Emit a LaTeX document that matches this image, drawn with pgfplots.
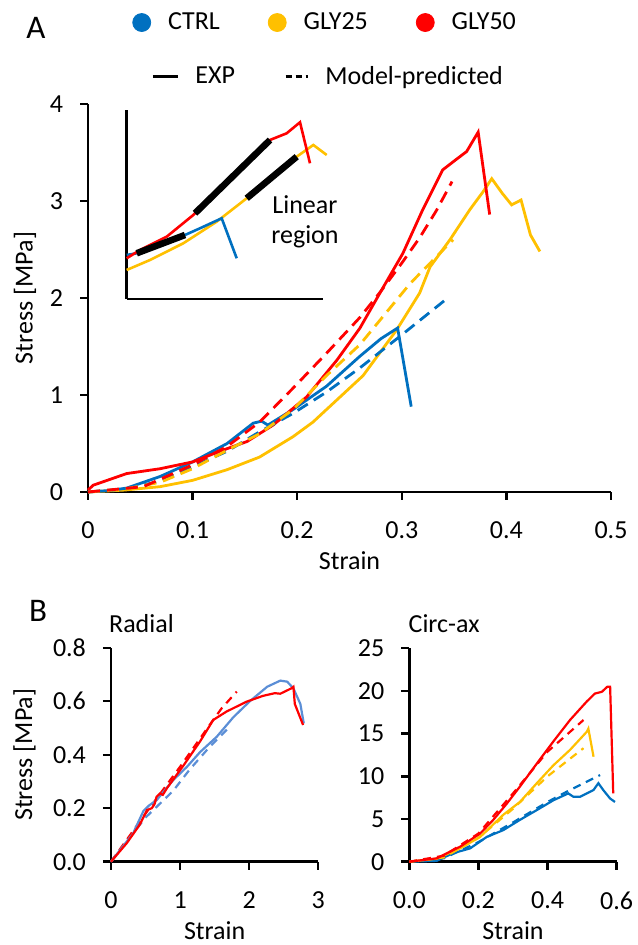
\documentclass[border=0pt]{standalone}
\usepackage{fontspec}
\setmainfont{Carlito}
\usepackage{pgfplots}
\pgfplotsset{compat=1.18}
\definecolor{ctrl}{HTML}{0070C0}
\definecolor{ctrlB}{HTML}{5B8ED6}
\definecolor{gly25}{HTML}{FFC000}
\definecolor{gly50}{HTML}{FF0000}

\pgfplotsset{
  panel/.style={
    scale only axis, axis lines=left, axis line style={-, line width=1.3pt},
    tick align=outside, major tick length=4pt, tick style={line width=1.2pt, black},
    every tick label/.append style={font=\fontsize{13}{15}\selectfont},
    xticklabel style={yshift=-7.5pt},
    yticklabel style={xshift=-5pt},
    label style={font=\fontsize{13}{15}\selectfont},
    /pgf/number format/assume math mode=true,
    clip=false,
  },
  exp/.style={line width=1.4pt},
  mod/.style={line width=1.4pt, dash pattern=on 6pt off 3.5pt},
  expB/.style={line width=1.1pt},
  modB/.style={line width=1.1pt, dash pattern=on 4pt off 3pt},
}

\begin{document}
\begin{tikzpicture}
\useasboundingbox (0,0) rectangle (318.5pt,472.5pt);

% ---- panel A
\begin{axis}[panel, at={(44pt,226.5pt)}, anchor=south west,
  width=261.5pt, height=194pt,
  xmin=0, xmax=0.5, ymin=0, ymax=4,
  xtick={0,0.1,0.2,0.3,0.4,0.5}, ytick={0,1,2,3,4},
  xlabel={Strain}, ylabel={Stress [MPa]},
  xlabel style={at={(axis description cs:0.5,-0.178)}, anchor=center},
  ylabel style={at={(axis description cs:-0.1205,0.5)}, anchor=center},
  legend columns=-1, legend cell align=left,
  legend style={at={(axis description cs:0.084,1.210)}, anchor=west,
    draw=none, fill=none, inner sep=0pt,
    font=\fontsize{13}{15}\selectfont,
    nodes={inner xsep=0pt, inner ysep=1pt},
    /tikz/every odd column/.append style={column sep=8.5pt},
    /tikz/every even column/.append style={column sep=24pt}},
]
\addlegendimage{legend image code/.code={\fill[ctrl] (4.5pt,0pt) circle (4.5pt);}}
\addlegendentry{CTRL}
\addlegendimage{legend image code/.code={\fill[gly25] (4.5pt,0pt) circle (4.5pt);}}
\addlegendentry{GLY25}
\addlegendimage{legend image code/.code={\fill[gly50] (4.5pt,0pt) circle (4.5pt);}}
\addlegendentry{GLY50}

% experimental
\addplot[exp, gly25, forget plot] coordinates {
 (0,0) (0.035,0.02) (0.069,0.055) (0.1,0.12) (0.133,0.23) (0.164,0.36)
 (0.196,0.57) (0.215,0.72) (0.228,0.85) (0.263,1.2) (0.295,1.67) (0.317,2.05)
 (0.327,2.32) (0.346,2.60) (0.365,2.91) (0.378,3.10) (0.386,3.23) (0.396,3.08)
 (0.405,2.96) (0.414,3.01) (0.423,2.65) (0.432,2.48)};
\addplot[exp, ctrl, forget plot] coordinates {
 (0,0) (0.02,0.015) (0.037,0.04) (0.069,0.16) (0.1,0.31) (0.133,0.50)
 (0.158,0.71) (0.166,0.73) (0.172,0.69) (0.196,0.85) (0.228,1.09) (0.26,1.40)
 (0.28,1.58) (0.293,1.67) (0.296,1.69) (0.309,0.88)};
\addplot[exp, gly50, forget plot] coordinates {
 (0,0.02) (0.005,0.07) (0.037,0.19) (0.069,0.24) (0.1,0.31) (0.126,0.42)
 (0.152,0.52) (0.177,0.69) (0.209,0.98) (0.238,1.36) (0.26,1.69) (0.279,2.05)
 (0.301,2.46) (0.320,2.91) (0.339,3.32) (0.351,3.42) (0.362,3.51) (0.373,3.71)
 (0.384,2.86)};
% model-predicted
\addplot[mod, ctrl, forget plot] coordinates {
 (0,0) (0.035,0.03) (0.069,0.11) (0.1,0.26) (0.133,0.42) (0.164,0.62)
 (0.196,0.81) (0.228,1.03) (0.26,1.28) (0.3,1.62) (0.345,2.01)};
\addplot[mod, gly25, forget plot] coordinates {
 (0,0) (0.035,0.03) (0.069,0.10) (0.1,0.24) (0.133,0.43) (0.164,0.60)
 (0.196,0.85) (0.228,1.2) (0.26,1.52) (0.308,2.15) (0.349,2.6)};
\addplot[mod, gly50, forget plot] coordinates {
 (0,0) (0.053,0.055) (0.1,0.28) (0.133,0.47) (0.164,0.72) (0.196,1.07)
 (0.228,1.43) (0.26,1.80) (0.28,2.07) (0.3,2.36) (0.317,2.62) (0.333,2.9)
 (0.348,3.2)};

\node[font=\fontsize{16.5}{18}\selectfont] at (axis description cs:-0.0994,1.197) {A};
\end{axis}

% ---- inset (schematic of linear region)
\begin{axis}[scale only axis, at={(63.35pt,323pt)}, anchor=south west,
  width=98.15pt, height=94.5pt,
  xmin=126.7, xmax=323, ymin=0, ymax=189,
  axis lines=left, axis line style={-, line width=1.3pt},
  xtick=\empty, ytick=\empty, clip=false,
  legend columns=-1, legend cell align=left,
  legend style={at={(axis description cs:0.124,1.176)}, anchor=west,
    draw=none, fill=none, inner sep=0pt,
    font=\fontsize{13}{15}\selectfont,
    nodes={inner xsep=0pt, inner ysep=1pt},
    /tikz/every odd column/.append style={column sep=8.2pt},
    /tikz/every even column/.append style={column sep=24.5pt}},
]
\addlegendimage{legend image code/.code={\draw[line width=1.5pt] (0pt,0pt) -- (12.3pt,0pt);}}
\addlegendentry{EXP}
\addlegendimage{legend image code/.code={\draw[line width=1.5pt, dash pattern=on 3pt off 2pt] (0pt,0pt) -- (11pt,0pt);}}
\addlegendentry{Model-predicted}

\addplot[line width=1.3pt, gly25, forget plot] coordinates {
 (126.7,29) (150,39) (183.3,55.7) (216.7,77.3) (246.7,100.7) (296.7,142.3)
 (313.3,154) (326.7,144)};
\addplot[line width=1.3pt, ctrl, forget plot] coordinates {
 (126.7,44) (136.7,45.7) (160,54.5) (185,64) (200,70.7) (221.7,80.7) (236.7,40.7)};
\addplot[line width=1.3pt, gly50, forget plot] coordinates {
 (126.7,40.7) (140,49) (166.7,62.3) (193.3,84) (195,85.7) (270,159)
 (286.7,165.7) (300,176.7) (310,135.7)};
\addplot[line width=3.3pt, black, forget plot] coordinates {(136.7,45.7) (185,64)};
\addplot[line width=3.3pt, black, forget plot] coordinates {(195,85.7) (270,159)};
\addplot[line width=3.3pt, black, forget plot] coordinates {(246.7,100.7) (296.7,142.3)};
\node[font=\fontsize{13}{15}\selectfont, align=center] at (axis description cs:0.908,0.407) {Linear\\region};
\end{axis}

% ---- panel B, radial
\begin{axis}[panel, at={(55.5pt,41.65pt)}, anchor=south west,
  width=103.65pt, height=107pt,
  xmin=0, xmax=3, ymin=0, ymax=0.8,
  xtick={0,1,2,3}, ytick={0,0.2,0.4,0.6,0.8},
  yticklabel style={/pgf/number format/.cd, fixed, fixed zerofill, precision=1},
  xlabel={Strain}, ylabel={Stress [MPa]},
  xlabel style={at={(axis description cs:0.5,-0.324)}, anchor=center},
  ylabel style={at={(axis description cs:-0.417,0.5)}, anchor=center},
]
\addplot[modB, ctrlB] coordinates {
 (0,0) (0.3,0.1) (0.5,0.165) (0.9,0.265) (1.14,0.345) (1.43,0.43) (1.72,0.505)};
\addplot[modB, gly50] coordinates {
 (0,0) (0.5,0.18) (1.0,0.355) (1.46,0.523) (1.60,0.573) (1.82,0.636)};
\addplot[expB, ctrlB] coordinates {
 (0,0) (0.15,0.05) (0.32,0.106) (0.47,0.19) (0.55,0.21) (0.66,0.23) (0.9,0.305)
 (1.10,0.355) (1.29,0.41) (1.53,0.467) (1.77,0.54) (2.01,0.60) (2.26,0.654)
 (2.45,0.677) (2.55,0.673) (2.64,0.648) (2.74,0.59) (2.79,0.517)};
\addplot[expB, gly50] coordinates {
 (0,0) (0.23,0.07) (0.42,0.14) (0.52,0.193) (0.59,0.2) (0.63,0.215) (0.66,0.243)
 (0.71,0.255) (0.75,0.25) (0.81,0.275) (1.05,0.36) (1.29,0.45) (1.48,0.53)
 (1.67,0.561) (1.96,0.598) (2.2,0.62) (2.37,0.63) (2.45,0.628) (2.61,0.648)
 (2.64,0.654) (2.66,0.59) (2.78,0.511)};
\node[font=\fontsize{13}{15}\selectfont] at (axis description cs:0.147,1.115) {Radial};
\node[font=\fontsize{16.5}{18}\selectfont] at (axis description cs:-0.352,1.171) {B};
\end{axis}

% ---- panel B, circ-ax
\begin{axis}[panel, at={(204.65pt,41.65pt)}, anchor=south west,
  width=103.7pt, height=106.7pt,
  xmin=0, xmax=0.6, ymin=0, ymax=25,
  xtick={0,0.2,0.4,0.6}, ytick={0,5,10,15,20,25},
  xticklabel style={/pgf/number format/.cd, fixed, fixed zerofill, precision=1},
  xlabel={Strain},
  xlabel style={at={(axis description cs:0.5,-0.324)}, anchor=center},
]
\addplot[expB, ctrl] coordinates {
 (0,0) (0.079,0.1) (0.127,1.0) (0.176,1.56) (0.224,2.9) (0.272,3.7) (0.32,4.9)
 (0.369,6.05) (0.417,7.2) (0.46,8.0) (0.475,7.6) (0.494,7.6) (0.533,8.4)
 (0.547,9.2) (0.561,8.4) (0.581,7.4) (0.595,7.0)};
\addplot[modB, ctrl] coordinates {
 (0,0) (0.1,0.4) (0.2,2.3) (0.3,4.6) (0.4,7.0) (0.46,8.3) (0.552,10.15)};
\addplot[expB, gly25] coordinates {
 (0,0) (0.079,0.35) (0.147,1.56) (0.205,2.9) (0.272,5.5) (0.32,7.0) (0.369,9.2)
 (0.417,11.3) (0.465,13.1) (0.513,15.2) (0.518,15.6) (0.533,12.3)};
\addplot[modB, gly25] coordinates {
 (0,0) (0.1,0.5) (0.2,2.8) (0.3,6.2) (0.4,10.0) (0.504,13.3)};
\addplot[expB, gly50] coordinates {
 (0,0) (0.079,0.39) (0.147,1.76) (0.205,3.3) (0.243,4.9) (0.282,6.8) (0.32,8.8)
 (0.369,11.5) (0.417,14.1) (0.465,16.6) (0.513,18.75) (0.537,19.7) (0.557,19.9)
 (0.573,20.5) (0.581,20.5) (0.59,8.0)};
\addplot[modB, gly50] coordinates {
 (0,0) (0.1,0.7) (0.2,3.3) (0.3,8.0) (0.4,12.9) (0.504,16.6)};
\node[font=\fontsize{13}{15}\selectfont] at (axis description cs:0.168,1.117) {Circ-ax};
\end{axis}
\end{tikzpicture}
\end{document}
